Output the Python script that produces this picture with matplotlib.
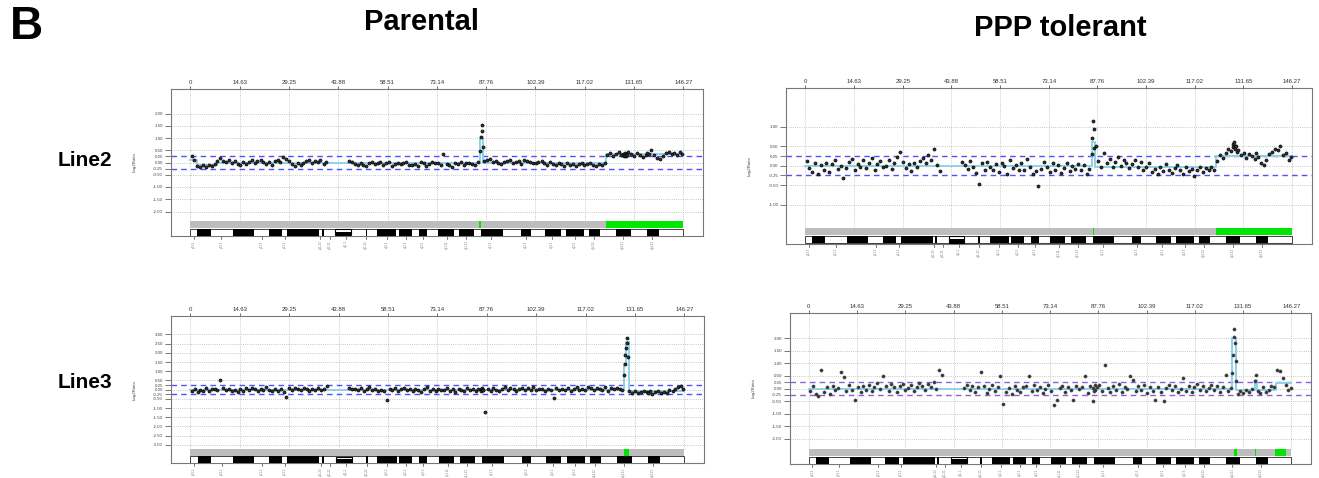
import numpy as np
import matplotlib
matplotlib.use("Agg")
import matplotlib.pyplot as plt
from matplotlib.patches import Rectangle
from matplotlib.transforms import blended_transform_factory, ScaledTranslation

plt.rcParams['font.family'] = ['Liberation Sans', 'DejaVu Sans']

# chromosome 8, positions in Mb
chrom_end = 146.27
xticks_mb = [0, 14.63, 29.25, 43.88, 58.51, 73.14, 87.76, 102.39, 117.02, 131.65, 146.27]

probe_mb = [0.4, 1.2, 2.1, 2.9, 3.8, 4.6, 5.5, 6.3, 7.2, 8.0,
            8.9, 9.7, 10.6, 11.4, 12.3, 13.1, 14.0, 14.8, 15.7, 16.5,
            17.4, 18.2, 19.1, 19.9, 20.8, 21.6, 22.5, 23.3, 24.2, 25.0,
            25.9, 26.7, 27.6, 28.4, 29.3, 30.1, 31.0, 31.8, 32.7, 33.5,
            34.4, 35.2, 36.1, 36.9, 37.8, 38.6, 39.5, 40.3, 47.1, 47.9,
            48.8, 49.6, 50.5, 51.3, 52.2, 53.0, 53.9, 54.7, 55.6, 56.4,
            57.3, 58.1, 59.0, 59.8, 60.7, 61.5, 62.4, 63.2, 64.1, 64.9,
            65.8, 66.6, 67.5, 68.3, 69.2, 70.0, 70.9, 71.7, 72.6, 73.4,
            74.3, 75.1, 76.0, 76.8, 77.7, 78.5, 79.4, 80.2, 81.1, 81.9,
            82.8, 83.6, 84.5, 85.3, 86.0, 86.2, 86.4, 86.6, 86.8, 87.2,
            88.0, 88.9, 89.7, 90.6, 91.4, 92.3, 93.1, 94.0, 94.8, 95.7,
            96.5, 97.4, 98.2, 99.1, 99.9, 100.8, 101.6, 102.5, 103.3, 104.2,
            105.0, 105.9, 106.7, 107.6, 108.4, 109.3, 110.1, 111.0, 111.8, 112.7,
            113.5, 114.4, 115.2, 116.1, 116.9, 117.8, 118.6, 119.5, 120.3, 121.2,
            122.0, 122.9, 123.7, 124.6, 125.4, 126.3, 127.1, 127.9, 128.4, 128.6,
            128.8, 129.0, 129.2, 129.4, 129.6, 130.0, 130.8, 131.7, 132.5, 133.4,
            134.2, 135.1, 135.5, 136.0, 136.8, 137.7, 138.5, 139.4, 140.2, 141.1,
            141.9, 142.8, 143.6, 144.5, 145.3, 146.0]

line2_parental = [0.28, 0.12, -0.14, -0.18, -0.12, -0.2, -0.1, -0.16, -0.08, 0.06,
                  0.18, 0.08, 0.02, 0.1, -0.04, 0.06, -0.08, -0.12, 0.02, -0.05,
                  0.04, 0.1, -0.02, 0.08, 0.12, 0.02, -0.06, 0.04, -0.1, 0.06,
                  0.1, 0.02, 0.22, 0.14, 0.06, -0.08, -0.14, 0.0, -0.12, -0.04,
                  0.06, 0.1, -0.02, 0.08, 0.04, 0.1, -0.06, 0.02, 0.08, 0.04,
                  -0.06, -0.12, -0.02, -0.1, -0.16, -0.04, 0.02, -0.08, -0.02, 0.04,
                  -0.1, -0.04, 0.02, -0.14, -0.06, 0.0, -0.08, -0.02, 0.04, -0.1,
                  -0.12, -0.06, -0.16, 0.02, -0.04, -0.14, -0.08, 0.04, -0.02, 0.0,
                  -0.1, 0.34, -0.06, -0.12, -0.18, -0.04, -0.08, 0.02, -0.1, -0.04,
                  0.0, -0.06, -0.12, 0.02, 0.45, 1.05, 1.52, 1.28, 0.62, 0.08,
                  0.1, 0.14, 0.04, 0.08, -0.04, -0.08, 0.02, 0.06, 0.1, -0.02,
                  0.04, 0.08, -0.06, 0.1, 0.06, 0.02, -0.04, 0.0, 0.04, 0.08,
                  -0.02, -0.1, 0.02, -0.06, -0.12, 0.0, -0.08, -0.14, -0.04, -0.1,
                  -0.06, -0.16, -0.08, -0.02, -0.12, -0.08, -0.04, -0.1, -0.14, -0.06,
                  -0.1, -0.04, 0.3, 0.38, 0.26, 0.34, 0.42, 0.3, 0.36, 0.28,
                  0.32, 0.4, 0.26, 0.36, 0.3, 0.44, 0.34, 0.28, 0.38, 0.3,
                  0.24, 0.32, 0.4, 0.36, 0.5, 0.3, 0.2, 0.14, 0.26, 0.38,
                  0.44, 0.34, 0.4, 0.3, 0.42, 0.36]

line2_tolerant = [0.12, -0.05, -0.15, 0.08, -0.2, 0.02, -0.1, 0.06, -0.16, 0.04,
                  0.15, -0.08, 0.0, -0.32, -0.05, 0.1, 0.18, -0.12, 0.05, -0.02,
                  0.14, -0.06, 0.08, 0.2, -0.1, 0.04, 0.12, -0.04, 0.0, 0.16,
                  -0.08, 0.06, 0.22, 0.36, 0.1, -0.06, 0.04, -0.14, 0.08, -0.02,
                  0.12, 0.2, 0.06, 0.28, 0.14, 0.42, 0.02, -0.14, 0.1, 0.02,
                  -0.08, 0.12, -0.04, -0.18, -0.48, 0.06, -0.12, 0.1, -0.02, -0.1,
                  0.04, -0.16, 0.08, 0.0, -0.2, 0.14, -0.06, 0.02, -0.12, 0.06,
                  -0.1, 0.18, -0.04, -0.22, -0.14, -0.52, -0.08, 0.1, -0.02, -0.16,
                  0.06, -0.1, 0.02, -0.18, -0.06, 0.08, -0.14, 0.0, -0.08, 0.04,
                  -0.12, 0.02, -0.22, -0.08, 0.3, 0.72, 1.15, 0.95, 0.45, 0.5,
                  0.12, -0.02, 0.32, 0.06, 0.18, -0.04, 0.1, 0.22, 0.0, 0.14,
                  0.08, -0.06, 0.04, 0.16, -0.02, 0.1, -0.12, -0.04, 0.06, -0.16,
                  -0.08, -0.2, -0.02, -0.14, 0.04, -0.1, -0.18, -0.06, 0.02, -0.12,
                  -0.22, -0.04, -0.14, -0.08, -0.26, -0.1, -0.02, -0.16, -0.06, -0.12,
                  -0.04, -0.1, 0.12, 0.28, 0.2, 0.34, 0.42, 0.38, 0.55, 0.48,
                  0.6, 0.52, 0.44, 0.5, 0.36, 0.4, 0.28, 0.34, 0.2, 0.3,
                  0.26, 0.18, 0.32, 0.22, 0.08, 0.02, 0.14, 0.3, 0.36, 0.44,
                  0.4, 0.5, 0.28, 0.34, 0.16, 0.22]

line3_parental = [-0.08, 0.04, -0.12, 0.0, -0.06, 0.08, -0.1, 0.02, 0.06, -0.04,
                  0.55, 0.1, -0.02, 0.06, -0.08, 0.0, -0.12, 0.04, -0.06, 0.08,
                  -0.02, 0.1, 0.04, -0.1, 0.06, -0.04, 0.12, 0.0, -0.08, 0.06,
                  -0.06, 0.04, -0.14, -0.42, 0.08, 0.0, 0.1, 0.04, -0.04, 0.08,
                  0.02, -0.06, 0.06, 0.0, 0.1, -0.04, 0.06, 0.22, 0.1, 0.02,
                  0.06, -0.04, 0.08, -0.08, 0.02, 0.12, -0.02, 0.04, -0.1, 0.0,
                  -0.06, -0.55, 0.06, -0.02, 0.08, -0.1, 0.02, 0.1, -0.04, 0.04,
                  -0.08, 0.06, 0.0, -0.12, 0.04, 0.16, -0.06, 0.02, -0.1, 0.06,
                  0.0, -0.04, 0.08, -0.08, 0.02, -0.12, 0.06, 0.0, -0.06, 0.1,
                  -0.02, 0.04, -0.1, 0.06, 0.02, -0.06, 0.08, 0.0, -0.04, -1.22,
                  0.04, -0.08, 0.1, 0.0, -0.06, 0.06, 0.12, -0.02, 0.08, 0.02,
                  -0.06, 0.04, 0.1, -0.02, 0.08, 0.0, 0.14, -0.04, 0.06, 0.02,
                  -0.08, 0.04, 0.0, -0.44, 0.08, -0.04, 0.06, 0.0, 0.1, -0.06,
                  0.04, 0.12, -0.02, 0.06, 0.0, 0.16, 0.08, -0.04, 0.1, 0.04,
                  0.0, 0.12, -0.06, 0.08, 0.02, 0.1, 0.04, -0.04, 0.82, 1.38,
                  1.9, 2.28, 2.82, 2.55, 1.75, -0.1, -0.16, -0.08, -0.2, -0.12,
                  -0.06, -0.14, -0.18, -0.1, -0.22, -0.14, -0.08, -0.2, -0.12, -0.16,
                  -0.04, -0.1, 0.02, 0.14, 0.2, 0.06]

line3_tolerant = [-0.1, 0.08, -0.2, -0.3, 0.72, -0.12, 0.04, -0.22, 0.1, -0.06,
                  0.02, 0.65, 0.45, -0.08, 0.12, -0.06, -0.45, 0.04, -0.14, 0.1,
                  -0.04, 0.14, -0.1, 0.06, 0.2, -0.02, 0.5, 0.1, -0.08, 0.16,
                  0.04, -0.12, 0.08, 0.18, -0.06, 0.02, 0.12, -0.1, 0.06, 0.2,
                  0.1, -0.04, 0.16, 0.06, 0.24, -0.02, 0.72, 0.55, 0.02, 0.14,
                  -0.06, 0.1, -0.12, 0.04, 0.65, 0.08, -0.16, 0.0, 0.12, -0.08,
                  0.06, 0.5, -0.6, -0.14, 0.02, -0.2, 0.1, -0.06, -0.12, 0.04,
                  0.08, 0.5, -0.1, 0.14, -0.04, 0.06, -0.18, 0.0, 0.12, -0.08,
                  -0.66, -0.45, 0.02, 0.1, -0.12, 0.06, -0.04, -0.45, 0.08, 0.0,
                  0.04, 0.5, -0.16, 0.08, -0.5, 0.02, -0.1, 0.12, -0.04, 0.06,
                  0.14, -0.08, 0.92, 0.02, -0.12, 0.1, -0.04, 0.16, -0.14, 0.06,
                  -0.02, 0.5, 0.35, -0.1, 0.08, -0.06, 0.12, -0.16, 0.04, -0.08,
                  -0.45, 0.06, -0.12, -0.5, 0.02, 0.14, -0.06, 0.08, -0.14, 0.0,
                  0.4, -0.08, 0.1, -0.12, 0.04, 0.16, -0.04, 0.08, -0.1, 0.02,
                  0.12, -0.06, 0.08, -0.14, 0.06, 0.55, -0.1, 0.02, 0.62, 1.35,
                  2.05, 2.35, 1.8, 1.1, 0.3, -0.2, -0.1, -0.16, -0.06, -0.14,
                  -0.02, 0.3, 0.55, -0.08, -0.16, 0.04, -0.12, -0.04, 0.1, 0.06,
                  0.75, 0.7, 0.4, 0.14, -0.06, 0.02]

# segment means (start, end, log2 ratio)
seg_line2_parental = [(0, 2.0, 0.1), (2.0, 8.0, -0.12), (8.0, 86.0, -0.01), (86.0, 86.9, 1.0),
                      (86.9, 123.3, -0.02), (123.3, 146.27, 0.33)]
seg_line2_tolerant = [(0, 86.1, 0.0), (86.1, 86.9, 0.62), (86.9, 123.3, -0.02), (123.3, 146.27, 0.25)]
seg_line3_parental = [(0, 128.4, 0.0), (128.4, 128.9, 1.4), (128.9, 129.8, 2.6), (129.8, 146.27, -0.1)]
seg_line3_tolerant = [(0, 128.3, 0.0), (128.3, 129.5, 2.0), (129.5, 135.1, -0.05), (135.1, 135.7, 0.35),
                      (135.7, 141.5, -0.05), (141.5, 146.27, 0.2)]

# called gains (green on the chromosome bar)
gain_line2_parental = [(85.7, 86.1), (123.3, 146.27)]
gain_line2_tolerant = [(86.3, 86.8), (123.3, 146.27)]
gain_line3_parental = [(128.4, 129.8)]
gain_line3_tolerant = [(128.8, 129.8), (135.1, 135.6), (141.2, 144.7)]

band_dark = [(2.1, 6.0), (12.6, 18.9), (23.2, 27.2), (28.7, 38.2), (39.0, 39.6), (52.0, 52.5),
             (55.4, 61.1), (61.9, 65.7), (67.7, 70.1), (73.5, 78.1), (79.7, 84.2), (86.3, 92.8),
             (98.2, 101.0), (105.3, 109.9), (111.4, 116.8), (118.3, 121.7), (126.3, 130.7),
             (135.5, 139.1)]
centromere = (43.0, 47.8)
band_label_mb = [1.1, 9.2, 21.1, 28.0, 38.6, 41.3, 46.1, 52.2, 58.2, 63.9, 69.0, 76.2, 81.9,
                 89.3, 99.7, 107.3, 114.0, 119.8, 128.4, 137.1]
band_label_txt = ['p23.3', 'p23.1', 'p21.3', 'p21.1', 'p11.23', 'p11.21', 'q11.1', 'q11.22',
                  'q12.1', 'q12.3', 'q13.2', 'q21.11', 'q21.13', 'q21.3', 'q22.2', 'q23.1',
                  'q23.3', 'q24.12', 'q24.21', 'q24.23']

yt_a = [2, 1.5, 1, 0.5, 0.25, 0, -0.25, -0.5, -1, -1.5, -2]
yt_b = [1, 0.5, 0.25, 0, -0.25, -0.5, -1]
yt_c = [3, 2.5, 2, 1.5, 1, 0.5, 0.25, 0, -0.25, -0.5, -1, -1.5, -2, -2.5, -3]

W, H = 1319, 478
fig = plt.figure(figsize=(W / 100, H / 100), dpi=100)


def px_axes(left, top, right, bottom):
    return fig.add_axes([left / W, 1 - bottom / H, (right - left) / W, (bottom - top) / H])


def draw_panel(ax, values, segs, gains, yticks, ylim, dash_col, pt_col):
    ax.set_xlim(-0.04 * chrom_end, chrom_end * 1.04)
    ax.set_ylim(*ylim)
    tr = blended_transform_factory(ax.transData, ax.transAxes)
    dot = (0, (1, 1.6))
    for v in yticks:
        if abs(v) != 0.25:
            ax.axhline(v, color='#b5b5b5', lw=0.6, ls=dot, zorder=1)
    for x in xticks_mb:
        ax.plot([x, x], [0.10, 1], transform=tr, color='#b5b5b5', lw=0.6, ls=dot, zorder=1)
    for v in (0.25, -0.25):
        ax.axhline(v, color=dash_col, lw=1.0, ls=(0, (4, 3)), zorder=2)

    sx, sy = [], []
    for a, b, m in segs:
        sx += [a, b]
        sy += [m, m]
    ax.plot(sx, sy, color='#8dd3ea', lw=1.4, zorder=3)
    ax.scatter(probe_mb, values, s=5, facecolors='#333333', edgecolors=pt_col,
               linewidths=0.45, zorder=4)

    # chromosome bar with gains
    ax.add_patch(Rectangle((0, 0.052), chrom_end, 0.048, transform=tr,
                           facecolor='#bdbdbd', edgecolor='none', zorder=5))
    for a, b in gains:
        ax.add_patch(Rectangle((a, 0.052), b - a, 0.048, transform=tr,
                               facecolor='#00e600', edgecolor='none', zorder=6))
    # ideogram
    ax.add_patch(Rectangle((0, 0.002), chrom_end, 0.046, transform=tr,
                           facecolor='white', edgecolor='#222222', lw=0.6, zorder=5))
    for a, b in band_dark:
        ax.add_patch(Rectangle((a, 0.002), b - a, 0.046, transform=tr,
                               facecolor='black', edgecolor='none', zorder=6))
    c0, c1 = centromere
    ax.add_patch(Rectangle((c0, 0.004), c1 - c0, 0.026, transform=tr,
                           facecolor='black', edgecolor='none', zorder=6))
    ax.add_patch(Rectangle((c0, 0.004), c1 - c0, 0.042, transform=tr,
                           facecolor='none', edgecolor='black', lw=0.8, zorder=6))
    for x, t in zip(band_label_mb, band_label_txt):
        ax.plot([x, x], [0, -0.02], transform=tr, color='#444444', lw=0.5, clip_on=False)
        ax.text(x, -0.03, t, transform=tr, rotation=90, ha='center', va='top',
                fontsize=2.1, color='#777777', clip_on=False)

    ax.xaxis.tick_top()
    ax.set_xticks(xticks_mb)
    ax.set_xticklabels([f'{v:g}' for v in xticks_mb])
    ax.tick_params(axis='x', labelsize=4.3, length=2, width=0.5, pad=0.8, colors='#333333')
    ax.set_yticks(yticks)
    ax.set_yticklabels([f'{v:.2f}' for v in yticks])
    ax.tick_params(axis='y', labelsize=3.2, length=4, width=0.5, pad=1.5, colors='#444444')
    for s in ax.spines.values():
        s.set_color('#777777')
        s.set_linewidth(0.8)
    lab_tr = ax.transAxes + ScaledTranslation(-0.36, 0, fig.dpi_scale_trans)
    ax.text(0, 0.5, 'Log2Ratio', transform=lab_tr, rotation=90, ha='center', va='center',
            fontsize=3.2, color='#444444')


ax_tl = px_axes(170.7, 89, 703, 236)
ax_tr = px_axes(786, 88, 1311.5, 243.5)
ax_bl = px_axes(170.7, 316, 704, 463.3)
ax_br = px_axes(789.5, 313, 1310.7, 464)

draw_panel(ax_tl, line2_parental, seg_line2_parental, gain_line2_parental, yt_a, (-3, 3), '#5050ff', 'black')
draw_panel(ax_tr, line2_tolerant, seg_line2_tolerant, gain_line2_tolerant, yt_b, (-2, 2), '#5050ff', 'black')
draw_panel(ax_bl, line3_parental, seg_line3_parental, gain_line3_parental, yt_c, (-4, 4), '#5050ff', 'black')
draw_panel(ax_br, line3_tolerant, seg_line3_tolerant, gain_line3_tolerant, yt_a, (-3, 3), '#8a62d6', '#4a4a4a')

fig.text(26 / W, 1 - 27 / H, 'B', fontsize=33, fontweight='bold', ha='center', va='center')
fig.text(422 / W, 1 - 22 / H, 'Parental', fontsize=21, fontweight='bold', ha='center', va='center')
fig.text(1060 / W, 1 - 28 / H, 'PPP tolerant', fontsize=21, fontweight='bold', ha='center', va='center')
fig.text(85 / W, 1 - 160 / H, 'Line2', fontsize=15, fontweight='bold', ha='center', va='center')
fig.text(85 / W, 1 - 383 / H, 'Line3', fontsize=15, fontweight='bold', ha='center', va='center')

fig.savefig('out.png', dpi=100)
